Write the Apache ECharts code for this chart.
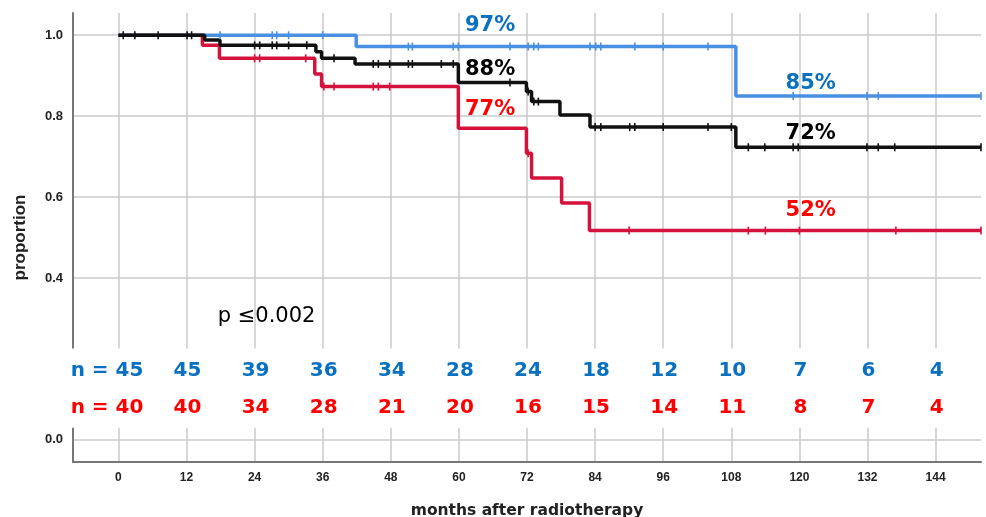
<!DOCTYPE html>
<html><head><meta charset="utf-8">
<script src="https://cdn.jsdelivr.net/npm/echarts@6/dist/echarts.min.js"></script>
<style>html,body{margin:0;padding:0;background:#fff}#c{width:986px;height:517px}</style>
</head><body><div id="c"></div>
<script>
// ---- data ----
const xTicks = [0, 12, 24, 36, 48, 60, 72, 84, 96, 108, 120, 132, 144];
const yTicks = [0, 0.2, 0.4, 0.6, 0.8, 1.0];
const yTickLabels = [0, 0.4, 0.6, 0.8, 1.0];

// Kaplan-Meier steps (months, proportion surviving after the step)
const blueTimes = [0, 41.9, 108.8, 152];
const blueSurv  = [1.0, 0.972, 0.850, 0.850];
const blueCensored = [17.9, 27.1, 27.9, 30.0, 36.0, 51.1, 51.8, 59.0, 59.9, 69.0, 72.2, 73.2, 74.0, 83.1, 84.1, 85.0, 91.0, 96.0, 103.9, 118.9, 131.9, 133.9, 152];

const blackTimes = [0, 15.2, 17.9, 34.8, 35.8, 41.7, 59.9, 71.9, 72.8, 77.8, 83.1, 108.8, 152];
const blackSurv  = [1.0, 0.988, 0.975, 0.959, 0.943, 0.929, 0.883, 0.861, 0.836, 0.803, 0.773, 0.723, 0.723];
const blackCensored = [0.85, 2.9, 7.0, 12.1, 12.9, 24.0, 24.9, 27.1, 27.9, 30.0, 33.2, 38.0, 44.9, 45.8, 47.8, 51.1, 51.8, 56.9, 59.0, 69.0, 72.2, 73.2, 74.0, 84.0, 85.0, 90.1, 91.0, 96.0, 103.9, 108.0, 111.0, 113.9, 118.9, 119.8, 131.9, 133.9, 136.8, 152];

const redTimes = [0, 14.8, 17.8, 34.6, 35.8, 59.9, 71.9, 72.8, 78.1, 83.0, 152];
const redSurv  = [1.0, 0.975, 0.943, 0.904, 0.873, 0.770, 0.708, 0.647, 0.585, 0.517, 0.517];
const redCensored = [24.0, 24.9, 33.0, 36.2, 38.0, 44.9, 45.8, 47.8, 72.2, 90.0, 111.0, 114.0, 120.0, 137.0, 152];

// numbers at risk
const atRiskMonths = xTicks;
const atRiskBlue = [45, 45, 39, 36, 34, 28, 24, 18, 12, 10, 7, 6, 4];
const atRiskRed  = [40, 40, 34, 28, 21, 20, 16, 15, 14, 11, 8, 7, 4];

// annotations
const pctTexts = ['97%', '88%', '77%', '85%', '72%', '52%'];
const pValueText = 'p \u22640.002';

// ---- layout / style (not data) ----
const COL = { blue: '#4a90e2', black: '#111111', red: '#d5123c', blueTxt: '#0a70c0', redTxt: '#ff0000' };
const pctPlace = [[65.5, 1.023], [65.5, 0.916], [65.5, 0.817], [122, 0.880], [122, 0.758], [122, 0.567]];
const pctColor = [COL.blueTxt, '#000', COL.redTxt, COL.blueTxt, '#000', COL.redTxt];
const pPlace = [17.5, 0.304];
const rowY = { blue: 0.171, red: 0.079 };
const bandRange = [0.2255, 0.0297];

function survAt(times, surv, t) {
  let v = surv[0];
  for (let i = 0; i < times.length; i++) { if (times[i] <= t) v = surv[i]; }
  return v;
}
function stepSeries(times, surv, color) {
  return { type: 'line', step: 'end', symbol: 'none', data: times.map((t, i) => [t, surv[i]]),
    lineStyle: { color: color, width: 3.5, opacity: 1 }, z: 3, silent: true, animation: false };
}
function censorSeries(times, surv, cens, color) {
  return { type: 'scatter', symbol: 'rect', symbolSize: [1.6, 8], itemStyle: { color: color, opacity: 1 },
    data: cens.map(t => [t, survAt(times, surv, t)]), z: 4, silent: true, animation: false };
}
const txtBase = { show: true, position: [0, 0], align: 'center', verticalAlign: 'middle', textBorderWidth: 0, opacity: 1 };
function riskSeries(vals, y, color) {
  return { type: 'scatter', symbolSize: 0, z: 100, silent: true, animation: false, itemStyle: { opacity: 1 },
    data: vals.map((v, i) => ({
      value: [atRiskMonths[i], y],
      label: i === 0 ? { formatter: 'n = ' + v, align: 'right', offset: [25, 0] } : { formatter: String(v), offset: [1, 0] }
    })),
    label: Object.assign({}, txtBase, { color: color, fontFamily: 'DejaVu Sans', fontWeight: 'bold', fontSize: 20 })
  };
}

const chart = echarts.init(document.getElementById('c'), null, { renderer: 'canvas' });
const axisTxt = { color: '#222', fontWeight: 'bold', fontFamily: 'Liberation Sans' };
chart.setOption({
  backgroundColor: '#fff',
  animation: false,
  grid: { left: 73, right: 5, top: 13, bottom: 55, containLabel: false, outerBoundsMode: 'none' },
  xAxis: {
    type: 'value', min: -8, max: 152,
    axisLine: { show: true, onZero: false, lineStyle: { color: '#777', width: 2 } },
    axisTick: { show: false, customValues: xTicks },
    axisLabel: Object.assign({ customValues: xTicks, fontSize: 12, margin: 10 }, axisTxt),
    splitLine: { show: true, lineStyle: { color: '#cacaca', width: 1.5 } },
    name: 'months after radiotherapy', nameLocation: 'middle', nameGap: 41,
    nameTextStyle: { color: '#222', fontWeight: 'bold', fontFamily: 'DejaVu Sans', fontSize: 15.5 }
  },
  yAxis: {
    type: 'value', min: -0.055, max: 1.055,
    axisLine: { show: true, onZero: false, lineStyle: { color: '#777', width: 2 } },
    axisTick: { show: false, customValues: yTicks },
    axisLabel: Object.assign({ customValues: yTickLabels, fontSize: 13, margin: 10, formatter: v => v.toFixed(1) }, axisTxt),
    splitLine: { show: true, lineStyle: { color: '#cacaca', width: 1.5 } },
    name: 'proportion', nameLocation: 'middle', nameGap: 44,
    nameTextStyle: { color: '#222', fontWeight: 'bold', fontFamily: 'Liberation Sans', fontSize: 17 }
  },
  series: [
    stepSeries(redTimes, redSurv, COL.red),
    censorSeries(redTimes, redSurv, redCensored, COL.red),
    stepSeries(blueTimes, blueSurv, COL.blue),
    censorSeries(blueTimes, blueSurv, blueCensored, COL.blue),
    stepSeries(blackTimes, blackSurv, COL.black),
    censorSeries(blackTimes, blackSurv, blackCensored, COL.black),
    riskSeries(atRiskBlue, rowY.blue, COL.blueTxt),
    riskSeries(atRiskRed, rowY.red, COL.redTxt),
    { type: 'scatter', symbolSize: 0, z: 100, silent: true, itemStyle: { opacity: 1 },
      data: pctTexts.map((t, i) => ({ value: pctPlace[i], label: { formatter: t, color: pctColor[i] } })),
      label: Object.assign({}, txtBase, { fontFamily: 'DejaVu Sans', fontWeight: 'bold', fontSize: 21 }) },
    { type: 'scatter', symbolSize: 0, z: 100, silent: true, itemStyle: { opacity: 1 },
      data: [{ value: pPlace, label: { formatter: pValueText } }],
      label: Object.assign({}, txtBase, { align: 'left', color: '#000', fontFamily: 'DejaVu Sans', fontSize: 21 }) }
  ]
});
const yTop = chart.convertToPixel({ yAxisIndex: 0 }, bandRange[0]);
const yBot = chart.convertToPixel({ yAxisIndex: 0 }, bandRange[1]);
chart.setOption({
  graphic: [{ type: 'rect', z: 50, silent: true, shape: { x: 0, y: yTop, width: 986, height: yBot - yTop }, style: { fill: '#fff' } }]
});
</script></body></html>
